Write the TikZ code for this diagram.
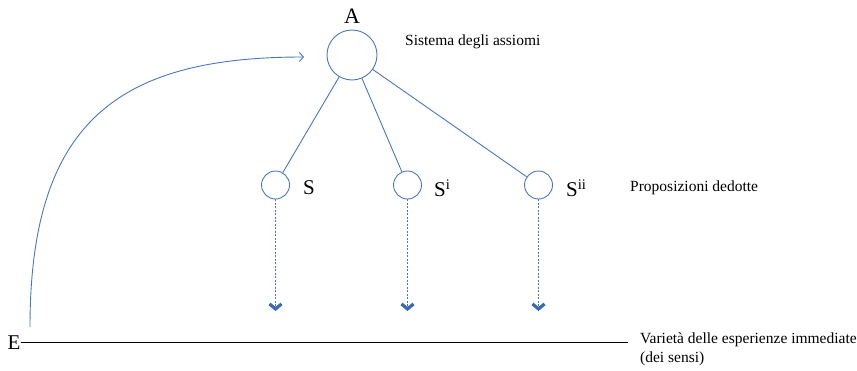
\documentclass[tikz,border=0pt]{standalone}
\usepackage{fontspec}
\setmainfont{Liberation Serif}
\usetikzlibrary{arrows.meta}
\definecolor{lblue}{RGB}{74,118,190}
\definecolor{cblue}{RGB}{58,104,178}
\begin{document}
\begin{tikzpicture}[x=1pt,y=-1pt,
  circ/.style={circle,draw=lblue,line width=0.9pt,inner sep=0pt},
  big/.style={font=\fontsize{22}{24}\selectfont},
  mid/.style={font=\fontsize{21}{22}\selectfont},
  small/.style={font=\fontsize{15.5}{18.5}\selectfont,inner sep=0pt},
  tree/.style={draw=lblue,line width=0.9pt},
  dedu/.style={draw=lblue,line width=0.8pt,dash pattern=on 2pt off 1.5pt,
    -{Straight Barb[length=5pt,width=12pt,line width=3.2pt,color=cblue]}},
]
\useasboundingbox (0,0) rectangle (857,370);
% nodes
\node[circ,minimum size=50pt] (a) at (352,55) {};
\node[big] (alab) at (352,16) {A};
\node[small,anchor=west] (sist) at (405,42) {Sistema degli assiomi};
\node[circ,minimum size=28pt] (s1) at (275.5,185) {};
\node[circ,minimum size=28pt] (s2) at (407.5,185) {};
\node[circ,minimum size=28pt] (s3) at (538.5,185) {};
\node[mid,anchor=west,inner sep=0pt] (l1) at (303,188) {S};
\node[mid,anchor=west,inner sep=0pt] (l2) at (434,188) {S\textsuperscript{i}};
\node[mid,anchor=west,inner sep=0pt] (l3) at (566,188) {S\textsuperscript{ii}};
\node[small,anchor=west] (prop) at (630,188) {Proposizioni dedotte};
\coordinate (d1) at (275.5,311);
\coordinate (d2) at (407.5,311);
\coordinate (d3) at (538.5,311);
\node[font=\fontsize{21}{22}\selectfont,inner sep=0pt] (e) at (14,343) {E};
\node[small,anchor=north west,align=left] (var) at (640,333)
  {Varietà delle esperienze immediate\\(dei sensi)};
\coordinate (lend) at (628,342);
\coordinate (cstart) at (30,327);
\coordinate (cend) at (304,57);
% connectors
\draw[tree] (a) -- (s1);
\draw[tree] (a) -- (s2);
\draw[tree] (a) -- (s3);
\draw[dedu] (s1) -- (d1);
\draw[dedu] (s2) -- (d2);
\draw[dedu] (s3) -- (d3);
\draw[black,line width=0.8pt] (e.east |- lend) -- (lend);
\draw[draw=lblue,line width=0.9pt,-{Straight Barb[length=4pt,width=9pt]}]
  (cstart) .. controls (30,120) and (120,57) .. (cend);
\end{tikzpicture}
\end{document}
